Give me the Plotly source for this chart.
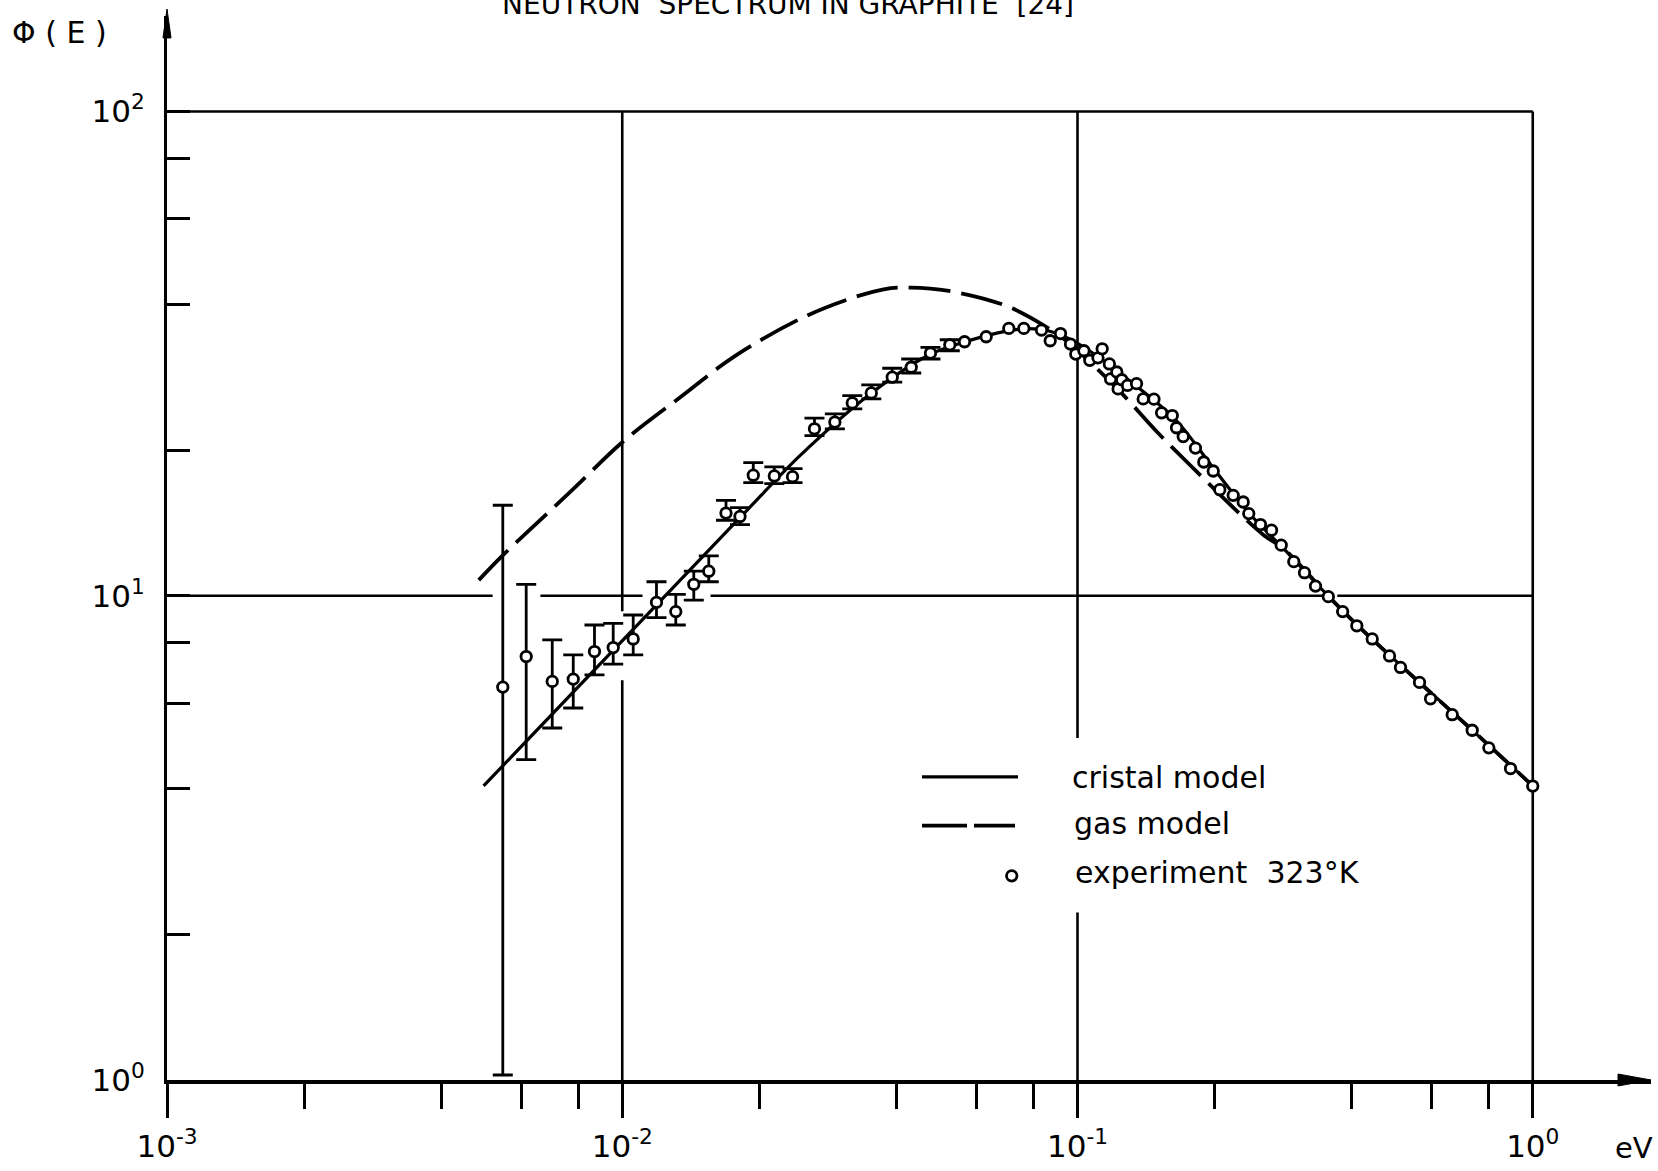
import plotly.graph_objects as go

# ---------------- data ----------------
# experiment points with error bars: energy [eV], flux, upper / lower end of bar
exp_err_E = [0.005465, 0.006152, 0.007018, 0.007805, 0.00869, 0.009553, 0.01057, 0.01189,
             0.01311, 0.01436, 0.01549, 0.0169, 0.01814, 0.0194, 0.02158, 0.02366, 0.02644,
             0.02931, 0.03201, 0.03524, 0.03918, 0.04313, 0.04754, 0.05242]
exp_err_phi = [6.477, 7.49, 6.655, 6.728, 7.67, 7.818, 8.143, 9.692, 9.275, 10.56, 11.24,
               14.82, 14.58, 17.74, 17.68, 17.62, 22.12, 22.84, 25.02, 26.24, 28.27, 29.64,
               31.71, 32.98]
exp_err_hi = [15.38, 10.56, 8.105, 7.547, 8.703, 8.773, 9.125, 10.69, 10.07, 11.24, 12.09,
              15.74, 15.21, 18.83, 18.45, 18.30, 23.27, 23.75, 25.90, 27.25, 29.50, 30.83,
              32.58, 33.78]
exp_err_lo = [1.024, 4.588, 5.333, 5.864, 6.867, 7.224, 7.547, 9.014, 8.703, 9.798, 10.69,
              14.32, 14.03, 17.12, 17.04, 17.12, 21.42, 22.12, 24.32, 25.50, 27.61, 28.84,
              30.83, 32.06]

# experiment points without error bars
exp_E = [0.05647, 0.06301, 0.07065, 0.07622, 0.08336, 0.0871, 0.09176, 0.09652, 0.09914,
         0.1033, 0.1064, 0.1109, 0.1133, 0.1175, 0.1182, 0.1220, 0.1228, 0.1251, 0.1288,
         0.1348, 0.1394, 0.1472, 0.1530, 0.1615, 0.1650, 0.1707, 0.1816, 0.1894, 0.1987,
         0.2054, 0.2198, 0.2312, 0.2378, 0.2523, 0.2668, 0.2802, 0.2986, 0.3152, 0.3333,
         0.3556, 0.3823, 0.4107, 0.4440, 0.4846, 0.5123, 0.5640, 0.5963, 0.6654, 0.7362,
         0.8008, 0.8937, 1.0]
exp_phi = [33.46, 34.27, 35.66, 35.66, 35.37, 33.62, 34.79, 33.10, 31.56, 32.06, 30.64,
           31.00, 32.36, 30.11, 28.04, 28.98, 26.74, 27.93, 27.19, 27.42, 25.50, 25.47,
           23.87, 23.56, 22.23, 21.32, 20.18, 18.89, 18.10, 16.56, 16.12, 15.62, 14.78,
           14.03, 13.66, 12.72, 11.76, 11.16, 10.47, 9.958, 9.275, 8.670, 8.143, 7.512,
           7.112, 6.623, 6.127, 5.680, 5.275, 4.852, 4.397, 4.046]

# cristal model (solid curve)
cristal_E = [0.00496, 0.0182, 0.0246, 0.0354, 0.0474, 0.0575, 0.0698, 0.0769, 0.0858,
             0.0990, 0.1423, 0.1656, 0.2028, 0.2399, 0.2840, 0.3565, 0.4116, 0.5640,
             0.7362, 1.0]
cristal_phi = [4.05, 14.55, 19.5, 26.3, 31.5, 33.6, 35.2, 35.6, 35.3, 33.4, 26.0, 22.9,
               17.9, 14.7, 12.5, 9.96, 8.70, 6.62, 5.28, 4.05]

# gas model (dashed curve)
gas_E = [0.00484, 0.00547, 0.0078, 0.01003, 0.01372, 0.01764, 0.02452, 0.03062, 0.03754,
         0.04297, 0.05218, 0.06977, 0.08464, 0.09652, 0.1086, 0.1254, 0.1509, 0.1771,
         0.2243, 0.2566, 0.2840, 0.3565, 0.4116, 0.5640, 0.7362, 1.0]
gas_phi = [10.77, 12.13, 16.6, 20.8, 26.12, 31.22, 37.26, 40.63, 42.95, 43.3, 42.61,
           39.68, 36.10, 33.10, 29.86, 26.12, 21.60, 18.58, 14.94, 13.34, 12.5, 9.96,
           8.70, 6.62, 5.28, 4.05]

# tick values / labels
x_major = [0.001, 0.01, 0.1, 1.0]
x_major_text = ["10<sup>-3</sup>", "10<sup>-2</sup>", "10<sup>-1</sup>", "10<sup>0</sup>"]
x_minor = [0.002, 0.004, 0.006, 0.008, 0.02, 0.04, 0.06, 0.08, 0.2, 0.4, 0.6, 0.8]
y_major = [1, 10, 100]
y_major_text = ["10<sup>0</sup>", "10<sup>1</sup>", "10<sup>2</sup>"]
y_minor = [2, 4, 6, 8, 20, 40, 60, 80]

# grid segments (decade lines, broken where the original drawing is broken)
grid_h_y = [100, 10, 10, 10, 10]
grid_h_x = [(0.001, 1.0), (0.001, 0.00519), (0.00661, 0.01108), (0.01563, 0.347), (0.372, 1.0)]
grid_v_x = [0.01, 0.01, 0.1, 0.1, 1.0]
grid_v_y = [(1, 6.695), (9.29, 100), (1, 2.218), (5.086, 100), (1, 100)]

# ---------------- layout geometry ----------------
W, H = 1658, 1171
L, R, T, B = 167, 7, 16, 88
PW, PH = W - L - R, H - T - B
DEC_X, DEC_Y = 455.25, 485.6
FONT = "DejaVu Sans"


def px(x):
    return (x - L) / PW


def py(y):
    return (H - B - y) / PH


fig = go.Figure()

# grid lines
gx, gy = [], []
for yv, (x0, x1) in zip(grid_h_y, grid_h_x):
    gx += [x0, x1, None]
    gy += [yv, yv, None]
for xv, (y0, y1) in zip(grid_v_x, grid_v_y):
    gx += [xv, xv, None]
    gy += [y0, y1, None]
fig.add_trace(go.Scatter(x=gx, y=gy, mode="lines", line=dict(color="black", width=2.6),
                         hoverinfo="skip", showlegend=False))

# model curves
fig.add_trace(go.Scatter(x=gas_E, y=gas_phi, mode="lines", name="gas model",
                         line=dict(color="black", width=3.8, dash="42px,11px",
                                   shape="spline", smoothing=1.0),
                         showlegend=False))
fig.add_trace(go.Scatter(x=cristal_E, y=cristal_phi, mode="lines", name="cristal model",
                         line=dict(color="black", width=3.2, shape="spline", smoothing=0.9),
                         showlegend=False))

# experiment
err_plus = [h - p for h, p in zip(exp_err_hi, exp_err_phi)]
err_minus = [p - l for p, l in zip(exp_err_phi, exp_err_lo)]
marker = dict(symbol="circle", size=10.5, color="white", line=dict(color="black", width=2.8))
fig.add_trace(go.Scatter(x=exp_err_E, y=exp_err_phi, mode="markers", name="experiment 323°K",
                         marker=marker,
                         error_y=dict(type="data", array=err_plus, arrayminus=err_minus,
                                      symmetric=False, color="black", thickness=2.8, width=10),
                         showlegend=False))
fig.add_trace(go.Scatter(x=exp_E, y=exp_phi, mode="markers", name="experiment 323°K",
                         marker=marker, showlegend=False))

xr = [-3, -3 + PW / DEC_X]
yr = [0, PH / DEC_Y]

fig.update_layout(
    width=W, height=H,
    margin=dict(l=L, r=R, t=T, b=B, pad=0),
    paper_bgcolor="white", plot_bgcolor="white",
    font=dict(family=FONT, color="black", size=28),
    hovermode=False,
    xaxis=dict(type="log", range=xr, showgrid=False, zeroline=False,
               showline=True, linecolor="black", linewidth=4,
               tickmode="array", tickvals=x_major, ticktext=x_major_text,
               ticks="outside", ticklen=34, tickwidth=2.6, tickcolor="black",
               tickfont=dict(family=FONT, size=31), ticklabelstandoff=2,
               minor=dict(tickmode="array", tickvals=x_minor, ticks="outside",
                          ticklen=25, tickwidth=2.6, tickcolor="black", showgrid=False)),
    yaxis=dict(type="log", range=yr, showgrid=False, zeroline=False,
               showline=True, linecolor="black", linewidth=3.2,
               tickmode="array", tickvals=y_major, ticktext=y_major_text,
               ticks="inside", ticklen=23, tickwidth=2.6, tickcolor="black",
               tickfont=dict(family=FONT, size=31), ticklabelstandoff=13,
               minor=dict(tickmode="array", tickvals=y_minor, ticks="inside",
                          ticklen=23, tickwidth=2.6, tickcolor="black", showgrid=False)),
)

shapes = []
# axis arrow heads
shapes.append(dict(type="path", xref="paper", yref="paper", fillcolor="black",
                   line=dict(color="black", width=1),
                   path=f"M {px(1618)},{py(1077)} L {px(1651)},{py(1083)} L {px(1618)},{py(1089)} Z"))
shapes.append(dict(type="path", xref="paper", yref="paper", fillcolor="black",
                   line=dict(color="black", width=1),
                   path=f"M {px(163)},{py(38)} L {px(167)},{py(9)} L {px(171)},{py(38)} Z"))

# hand-drawn style legend samples
shapes.append(dict(type="line", xref="paper", yref="paper", x0=px(922), x1=px(1018),
                   y0=py(779), y1=py(779), line=dict(color="black", width=3.2)))
shapes.append(dict(type="line", xref="paper", yref="paper", x0=px(922), x1=px(967),
                   y0=py(828), y1=py(828), line=dict(color="black", width=3.8)))
shapes.append(dict(type="line", xref="paper", yref="paper", x0=px(974), x1=px(1015),
                   y0=py(828), y1=py(828), line=dict(color="black", width=3.8)))
shapes.append(dict(type="circle", xref="paper", yref="paper", x0=px(1006.5), x1=px(1017),
                   y0=py(883.5), y1=py(873), line=dict(color="black", width=2.8),
                   fillcolor="white"))

annotations = [
    dict(text="NEUTRON&nbsp; SPECTRUM IN GRAPHITE&nbsp; [24]", xref="paper", yref="paper",
         x=px(788), y=py(15), xanchor="center", yanchor="bottom", yshift=-8,
         showarrow=False, font=dict(family=FONT, size=28)),
    dict(text="Φ ( E )", xref="paper", yref="paper", x=px(10), y=py(33),
         xanchor="left", yanchor="middle", showarrow=False, font=dict(family=FONT, size=30)),
    dict(text="eV", xref="paper", yref="paper", x=px(1613), y=py(1151),
         xanchor="left", yanchor="middle", showarrow=False, font=dict(family=FONT, size=29)),
    dict(text="cristal model", xref="paper", yref="paper", x=px(1070), y=py(780),
         xanchor="left", yanchor="middle", showarrow=False, font=dict(family=FONT, size=30)),
    dict(text="gas model", xref="paper", yref="paper", x=px(1072), y=py(826),
         xanchor="left", yanchor="middle", showarrow=False, font=dict(family=FONT, size=30)),
    dict(text="experiment&nbsp; 323°K", xref="paper", yref="paper", x=px(1073), y=py(875),
         xanchor="left", yanchor="middle", showarrow=False, font=dict(family=FONT, size=30)),
]

fig.update_layout(shapes=shapes, annotations=annotations)
fig.write_html("out.html")
